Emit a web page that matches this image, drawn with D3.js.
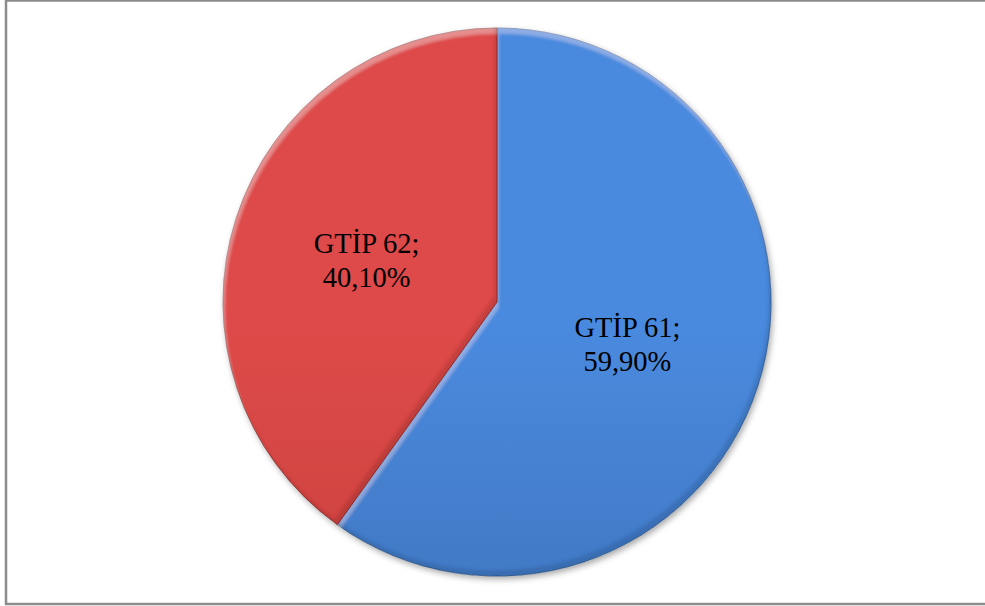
<!DOCTYPE html>
<html><head><meta charset="utf-8">
<script src="https://cdn.jsdelivr.net/npm/d3@7"></script>
<style>body{margin:0;background:#fff}svg{display:block}</style>
</head><body>
<script>
const categories = ["GTİP 61", "GTİP 62"];
const values = [59.9, 40.1];
const valueLabels = ["59,90%", "40,10%"];

const W = 985, H = 606;
const svg = d3.select("body").append("svg").attr("width", W).attr("height", H);
const defs = svg.append("defs");

// frame
svg.append("rect").attr("x", 6).attr("y", 0.5).attr("width", 990).attr("height", 603.5)
  .attr("fill", "#fff").attr("stroke", "#8c8c8c").attr("stroke-width", 2.5);

const colors = [["#4a8ade", "#3866a8"], ["#de4a48", "#b63a37"]];
const rims = ["#2f5a92", "#8e2a28"];
colors.forEach((c, i) => {
  const g = defs.append("linearGradient").attr("id", "g" + i)
    .attr("gradientUnits", "userSpaceOnUse").attr("x1", 0).attr("y1", 28).attr("x2", 0).attr("y2", 578);
  g.append("stop").attr("offset", 0).attr("stop-color", c[0]);
  g.append("stop").attr("offset", 1).attr("stop-color", c[1]);
});

// bevel filter
const f = defs.append("filter").attr("id", "bevel").attr("x", "-10%").attr("y", "-10%").attr("width", "120%").attr("height", "120%");
f.append("feOffset").attr("in", "SourceAlpha").attr("dx", 2).attr("dy", 6).attr("result", "o1");
f.append("feGaussianBlur").attr("in", "o1").attr("stdDeviation", 1.5).attr("result", "b1");
f.append("feComposite").attr("in", "SourceAlpha").attr("in2", "b1").attr("operator", "out").attr("result", "hl");
f.append("feFlood").attr("flood-color", "#ffffff").attr("flood-opacity", 0.22).attr("result", "wf");
f.append("feComposite").attr("in", "wf").attr("in2", "hl").attr("operator", "in").attr("result", "hlc");
f.append("feOffset").attr("in", "SourceAlpha").attr("dx", -3).attr("dy", -6).attr("result", "o2");
f.append("feGaussianBlur").attr("in", "o2").attr("stdDeviation", 1.5).attr("result", "b2");
f.append("feComposite").attr("in", "SourceAlpha").attr("in2", "b2").attr("operator", "out").attr("result", "sh");
f.append("feFlood").attr("flood-color", "#000000").attr("flood-opacity", 0.22).attr("result", "bf");
f.append("feComposite").attr("in", "bf").attr("in2", "sh").attr("operator", "in").attr("result", "shc");
const m = f.append("feMerge");
m.append("feMergeNode").attr("in", "SourceGraphic");
m.append("feMergeNode").attr("in", "hlc");
m.append("feMergeNode").attr("in", "shc");

const ds = defs.append("filter").attr("id", "drop").attr("x", "-10%").attr("y", "-10%").attr("width", "120%").attr("height", "120%");
ds.append("feDropShadow").attr("dx", 2).attr("dy", 3).attr("stdDeviation", 3).attr("flood-color", "#000").attr("flood-opacity", 0.35);

const cx = 497, cy = 302, r = 274;
const pie = d3.pie().sort(null).value(d => d)(values);
const arc = d3.arc().innerRadius(0).outerRadius(r);

const g = svg.append("g").attr("transform", `translate(${cx},${cy})`);
const shadowG = g.append("g").attr("filter", "url(#drop)");
shadowG.append("circle").attr("r", r).attr("fill", "#fff");

pie.forEach((p, i) => {
  g.append("path").attr("d", arc(p)).attr("fill", `url(#g${i})`)
    .attr("stroke", rims[i]).attr("stroke-width", 0.8).attr("filter", "url(#bevel)");
});

pie.forEach((p, i) => {
  const [x, y] = arc.centroid(p);
  const t = g.append("text").attr("text-anchor", "middle")
    .attr("font-family", "'Liberation Serif', 'Times New Roman', serif").attr("font-size", 28.5).attr("fill", "#000");
  t.append("tspan").attr("x", x).attr("y", y - 7).text(categories[i] + ";");
  t.append("tspan").attr("x", x).attr("y", y + 27).text(valueLabels[i]);
});
</script>
</body></html>
